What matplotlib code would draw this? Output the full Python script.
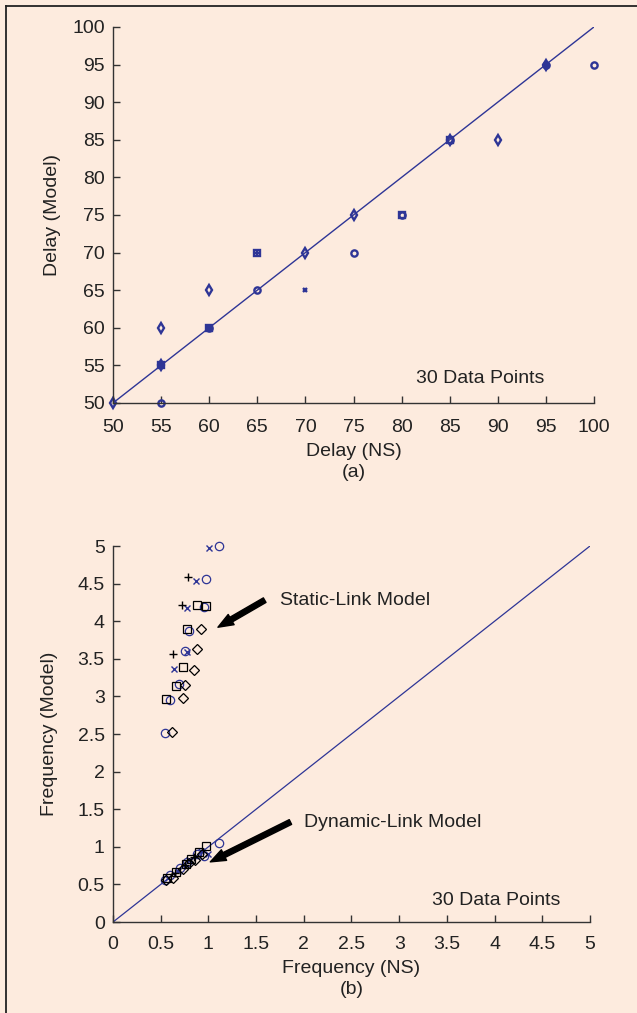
import numpy as np
import matplotlib
matplotlib.use("Agg")
import matplotlib.pyplot as plt
from matplotlib.lines import Line2D
from matplotlib.ticker import FormatStrFormatter

plt.rcParams['font.family'] = ['Liberation Sans', 'DejaVu Sans']

BG = '#fdebde'
BLUE = '#2e3596'
DARK = '#333333'
FS = 14

# (a) delay, NS vs model, one list per marker type
delay_o = [(55, 50), (60, 60), (65, 65), (75, 70), (80, 75), (85, 85), (95, 95), (100, 95)]
delay_s = [(55, 55), (60, 60), (65, 70), (80, 75), (85, 85)]
delay_d = [(50, 50), (55, 60), (55, 55), (60, 65), (70, 70), (75, 75), (85, 85), (90, 85), (95, 95)]
delay_x = [(70, 65), (95, 95), (55, 55), (60, 60)]
delay_p = [(65, 70), (55, 55), (95, 95), (60, 60)]
delay_ticks = list(range(50, 101, 5))

# (b) frequency, static-link cluster
stat_o = [(1.11, 5.0), (0.97, 4.56), (0.95, 4.19), (0.80, 3.87), (0.75, 3.61), (0.69, 3.16), (0.60, 2.95), (0.54, 2.52)]
stat_x = [(1.01, 4.98), (0.87, 4.54), (0.78, 4.17), (0.78, 3.59), (0.64, 3.36)]
stat_p = [(0.79, 4.59), (0.72, 4.22), (0.63, 3.56)]
stat_s = [(0.88, 4.21), (0.98, 4.20), (0.78, 3.90), (0.73, 3.39), (0.66, 3.14), (0.56, 2.97)]
stat_d = [(0.92, 3.90), (0.88, 3.63), (0.85, 3.35), (0.75, 3.15), (0.73, 2.98), (0.62, 2.53)]

# dynamic-link cluster
dyn_o = [(0.54, 0.56), (0.60, 0.62), (0.70, 0.72), (0.78, 0.80), (0.88, 0.90), (0.95, 0.88), (1.11, 1.05)]
dyn_x = [(0.58, 0.58), (0.68, 0.68), (0.80, 0.82), (0.92, 0.94), (1.00, 0.90)]
dyn_p = [(0.65, 0.65), (0.75, 0.76), (0.85, 0.86)]
dyn_s = [(0.57, 0.58), (0.66, 0.66), (0.76, 0.77), (0.82, 0.84), (0.90, 0.93), (0.97, 1.01)]
dyn_d = [(0.56, 0.56), (0.63, 0.59), (0.73, 0.70), (0.80, 0.79), (0.86, 0.82), (0.93, 0.91)]
freq_ticks = [0, 0.5, 1, 1.5, 2, 2.5, 3, 3.5, 4, 4.5, 5]


def style_axes(ax):
    ax.set_facecolor(BG)
    for s in ['top', 'right']:
        ax.spines[s].set_visible(False)
    for s in ['left', 'bottom']:
        ax.spines[s].set_color(DARK)
        ax.spines[s].set_linewidth(1.0)
    ax.tick_params(direction='in', length=5, width=1, colors=DARK,
                   labelsize=FS, labelcolor='#222222')
    ax.tick_params(axis='y', pad=6)


def pts(ax, data, marker, color, ms, mew):
    a = np.array(data)
    ax.plot(a[:, 0], a[:, 1], linestyle='none', marker=marker, mfc='none',
            mec=color, ms=ms, mew=mew, clip_on=False)


fig = plt.figure(figsize=(6.37, 10.13), dpi=100)
fig.patch.set_facecolor(BG)

# (a)
ax1 = fig.add_axes([0.1774, 0.6022, 0.7551, 0.3712])
style_axes(ax1)
ax1.tick_params(axis='x', pad=11.5)
ax1.plot([50, 100], [50, 100], color=BLUE, lw=1.0)
pts(ax1, delay_o, 'o', BLUE, 4.5, 1.7)
pts(ax1, delay_s, 's', BLUE, 4.5, 1.7)
pts(ax1, delay_d, 'd', BLUE, 5.5, 1.7)
pts(ax1, delay_x, 'x', BLUE, 3.5, 1.7)
pts(ax1, delay_p, '+', BLUE, 4, 1.7)
ax1.set_xlim(50, 100)
ax1.set_ylim(50, 100)
ax1.set_xticks(delay_ticks)
ax1.set_yticks(delay_ticks)
ax1.set_xlabel('Delay (NS)\n(a)', fontsize=FS, color='#222222', labelpad=5, linespacing=1.35)
ax1.set_ylabel('Delay (Model)', fontsize=FS, color='#222222', labelpad=8)
ax1.text(88.2, 53.2, '30 Data Points', fontsize=FS, color='#222222', ha='center', va='center')

# (b)
ax2 = fig.add_axes([0.1774, 0.0898, 0.7488, 0.3712])
style_axes(ax2)
ax2.tick_params(axis='x', pad=10)
ax2.plot([0, 5], [0, 5], color=BLUE, lw=0.9)
for grp in [(stat_o, dyn_o, 'o', BLUE, 6, 0.9),
            (stat_x, dyn_x, 'x', BLUE, 4, 1.0),
            (stat_p, dyn_p, '+', 'black', 6, 1.0),
            (stat_s, dyn_s, 's', 'black', 5.5, 0.9),
            (stat_d, dyn_d, 'D', 'black', 5, 0.9)]:
    pts(ax2, grp[0], grp[2], grp[3], grp[4], grp[5])
    pts(ax2, grp[1], grp[2], grp[3], grp[4], grp[5])
ax2.set_xlim(0, 5)
ax2.set_ylim(0, 5)
ax2.set_xticks(freq_ticks)
ax2.set_yticks(freq_ticks)
ax2.xaxis.set_major_formatter(FormatStrFormatter('%g'))
ax2.yaxis.set_major_formatter(FormatStrFormatter('%g'))
ax2.set_xlabel('Frequency (NS)\n(b)', fontsize=FS, color='#222222', labelpad=5, linespacing=1.35)
ax2.set_ylabel('Frequency (Model)', fontsize=FS, color='#222222', labelpad=14)
ax2.text(4.02, 0.29, '30 Data Points', fontsize=FS, color='#222222', ha='center', va='center')

arrow = dict(facecolor='black', edgecolor='black', width=3.8, headwidth=8.5, headlength=11, shrink=0)
ax2.annotate('', xy=(1.10, 3.92), xytext=(1.59, 4.28), arrowprops=arrow)
ax2.annotate('', xy=(1.02, 0.80), xytext=(1.86, 1.33), arrowprops=arrow)
ax2.text(1.75, 4.28, 'Static-Link Model', fontsize=FS, color='#222222', ha='left', va='center')
ax2.text(2.0, 1.33, 'Dynamic-Link Model', fontsize=FS, color='#222222', ha='left', va='center')

# frame on left and top edges
fig.add_artist(Line2D([6.5 / 637, 6.5 / 637], [0, 1 - 6.5 / 1013], color='#222222', lw=1.3))
fig.add_artist(Line2D([6.5 / 637, 1], [1 - 6.5 / 1013, 1 - 6.5 / 1013], color='#222222', lw=1.3))

fig.savefig('out.png', dpi=100, facecolor=BG)
